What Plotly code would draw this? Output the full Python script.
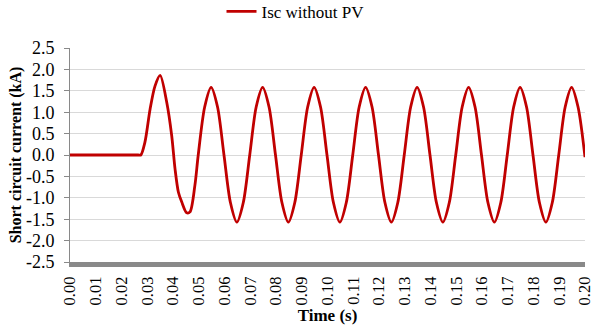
import plotly.graph_objects as go

# Time (s) and short-circuit current (kA)
time_s = [0.0000, 0.0100, 0.0200, 0.0265, 0.0275, 0.0291, 0.0311, 0.0330, 0.0350,
          0.0376, 0.0395, 0.0408, 0.0421, 0.0434, 0.0453, 0.0466, 0.0485,
          0.0498, 0.0523, 0.0548, 0.0573, 0.0598, 0.0623, 0.0648, 0.0673,
          0.0698, 0.0723, 0.0748, 0.0773, 0.0798, 0.0823, 0.0848, 0.0873,
          0.0898, 0.0923, 0.0948, 0.0973, 0.0998, 0.1023, 0.1048, 0.1073,
          0.1098, 0.1123, 0.1148, 0.1173, 0.1198, 0.1223, 0.1248, 0.1273,
          0.1298, 0.1323, 0.1348, 0.1373, 0.1398, 0.1423, 0.1448, 0.1473,
          0.1498, 0.1523, 0.1548, 0.1573, 0.1598, 0.1623, 0.1648, 0.1673,
          0.1698, 0.1723, 0.1748, 0.1773, 0.1798, 0.1823, 0.1848, 0.1873,
          0.1898, 0.1923, 0.1948, 0.1973, 0.2000]
isc_ka = [0.00, 0.00, 0.00, 0.00, 0.00, 0.30, 1.07, 1.61, 1.86,
          1.22, 0.45, -0.33, -0.87, -1.10, -1.35, -1.33, -0.71,
          0.00, 1.12, 1.58, 1.12, 0.00, -1.11, -1.57, -1.11,
          0.00, 1.12, 1.58, 1.12, 0.00, -1.11, -1.57, -1.11,
          0.00, 1.12, 1.58, 1.12, 0.00, -1.11, -1.57, -1.11,
          0.00, 1.12, 1.58, 1.12, 0.00, -1.11, -1.57, -1.11,
          0.00, 1.12, 1.58, 1.12, 0.00, -1.11, -1.57, -1.11,
          0.00, 1.12, 1.58, 1.12, 0.00, -1.11, -1.57, -1.11,
          0.00, 1.12, 1.58, 1.12, 0.00, -1.11, -1.57, -1.11,
          0.00, 1.12, 1.58, 1.12, -0.05]

x_tick_vals = [0.00, 0.01, 0.02, 0.03, 0.04, 0.05, 0.06, 0.07, 0.08, 0.09, 0.10,
               0.11, 0.12, 0.13, 0.14, 0.15, 0.16, 0.17, 0.18, 0.19, 0.20]
x_tick_text = ["0.00", "0.01", "0.02", "0.03", "0.04", "0.05", "0.06", "0.07",
               "0.08", "0.09", "0.10", "0.11", "0.12", "0.13", "0.14", "0.15",
               "0.16", "0.17", "0.18", "0.19", "0.20"]
y_tick_vals = [-2.5, -2.0, -1.5, -1.0, -0.5, 0.0, 0.5, 1.0, 1.5, 2.0, 2.5]
y_tick_text = ["-2.5", "-2.0", "-1.5", "-1.0", "-0.5", "0.0", "0.5", "1.0", "1.5", "2.0", "2.5"]

series_name = "Isc without PV"
x_title = "Time (s)"
y_title = "Short circuit current (kA)"

FONT = "Liberation Serif, Times New Roman, serif"

fig = go.Figure()
fig.add_trace(go.Scatter(
    x=time_s, y=isc_ka, mode="lines", name=series_name,
    line=dict(color="#C00000", width=2.8, shape="spline", smoothing=0.8),
))

fig.update_layout(
    width=591, height=332,
    margin=dict(l=70, r=6, t=48, b=70),
    paper_bgcolor="white", plot_bgcolor="white",
    font=dict(family=FONT, color="black", size=16),
    showlegend=True,
    legend=dict(
        orientation="h", xref="container", yref="container",
        x=0.5, xanchor="center", y=0.91, yanchor="bottom",
        font=dict(family=FONT, size=17, color="black"),
        bgcolor="rgba(0,0,0,0)",
        itemwidth=30,
    ),
    xaxis=dict(
        range=[0, 0.2], tickmode="array", tickvals=x_tick_vals, ticktext=x_tick_text,
        tickangle=-90, showgrid=False, zeroline=False,
        showline=True, linecolor="#898989", linewidth=5,
        ticks="", ticklabelstandoff=3, automargin=False,
        ticklabeloverflow="allow",
        tickfont=dict(family=FONT, size=16.5),
        title=dict(text="<b>" + x_title + "</b>", font=dict(family=FONT, size=17), standoff=6),
    ),
    yaxis=dict(
        range=[-2.5, 2.5], tickmode="array", tickvals=y_tick_vals, ticktext=y_tick_text,
        showgrid=True, gridcolor="#d9d9d9", gridwidth=1, zeroline=False,
        showline=True, linecolor="#898989", linewidth=1,
        ticks="outside", ticklen=5, tickcolor="#898989", automargin=False,
        ticklabelstandoff=6,
        tickfont=dict(family=FONT, size=18),
        title=dict(text="<b>" + y_title + "</b>", font=dict(family=FONT, size=16), standoff=0),
    ),
)

fig.write_html("out.html", config={"displayModeBar": False},
               post_script="document.body.style.margin='0';")
